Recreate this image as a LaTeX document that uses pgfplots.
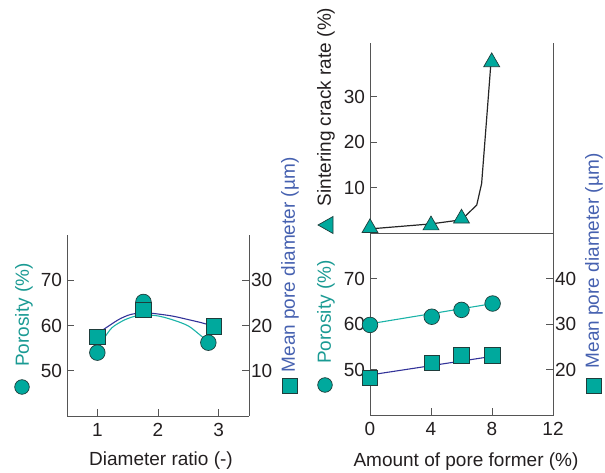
\documentclass[border=0pt]{standalone}
\usepackage{fontspec}
\setmainfont{Liberation Sans}
\usepackage{pgfplots}
\pgfplotsset{compat=1.18}
\definecolor{tealfill}{HTML}{00A99D}
\definecolor{outline}{HTML}{1F3D3B}
\definecolor{tealline}{HTML}{1BB3A8}
\definecolor{blueline}{HTML}{333399}
\definecolor{tealtext}{HTML}{1A9A93}
\definecolor{bluetext}{HTML}{4661B0}
\definecolor{ink}{HTML}{231F20}
\definecolor{axisgray}{HTML}{555555}

\pgfplotsset{
  base/.style={
    scale only axis, clip=false, anchor=south west,
    font=\fontsize{19}{22}\selectfont,
    /pgf/number format/assume math mode=true,
    tick align=inside, major tick length=7pt,
    tick style={axisgray, line width=0.8pt},
    axis line style={axisgray, line width=0.8pt, -},
    ticklabel style={text=ink},
    xticklabel style={yshift=-4pt},
    yticklabel style={xshift=-1.5pt},
  },
  circ/.style={only marks, mark=*, mark size=7.8pt,
    mark options={fill=tealfill, draw=outline, line width=0.7pt}},
  sq/.style={only marks, mark=square*, mark size=7.8pt,
    mark options={fill=tealfill, draw=outline, line width=0.7pt}},
  tri/.style={only marks, mark=triangle*, mark size=9.2pt,
    mark options={fill=tealfill, draw=outline, line width=0.7pt}},
}

\begin{document}
\begin{tikzpicture}[font=\fontsize{19}{22}\selectfont]
\useasboundingbox (0,0) rectangle (605pt,473pt);

% ---- left: diameter ratio ----
\begin{axis}[base, at={(67pt,57pt)}, width=182pt, height=181pt,
  xmin=0.5, xmax=3.5, ymin=40, ymax=80,
  xtick={1,2,3}, ytick={50,60,70},
  axis x line*=bottom, axis y line*=left]
\addplot[tealline, line width=1.1pt, smooth] coordinates
  {(1.10,56.9) (1.24,59.5) (1.46,61.3) (1.68,62.2) (1.96,62.2) (2.23,61.3) (2.50,59.9) (2.72,57.6) (2.80,56.8)};
\addplot[circ] coordinates {(1,54.0) (1.76,65.2) (2.83,56.2)};
\end{axis}
\begin{axis}[base, at={(67pt,57pt)}, width=182pt, height=181pt,
  xmin=0.5, xmax=3.5, ymin=0, ymax=40,
  ytick={10,20,30}, axis y line*=right, axis x line=none]
\addplot[blueline, line width=1.1pt, smooth] coordinates
  {(1.10,19.1) (1.35,21.3) (1.54,22.4) (1.74,22.8) (1.90,22.7) (2.23,22.1) (2.50,21.3) (2.72,20.6) (2.90,19.9)};
\addplot[sq] coordinates {(1,17.5) (1.76,23.5) (2.92,19.8)};
\end{axis}

% ---- right top: crack rate ----
\begin{axis}[base, at={(370pt,240pt)}, width=183pt, height=190pt,
  xmin=0, xmax=12, ymin=0, ymax=41.8,
  ytick={10,20,30}, xtick=\empty, ytick pos=left,
  axis x line=none, axis y line=box]
\addplot[black!85, line width=1.2pt] coordinates
  {(0,0.9) (4,2.0) (6,2.9) (7.0,6.15) (7.32,10.9) (7.54,20.4) (7.76,30) (7.91,36.6) (7.98,37.6)};
\addplot[tri] coordinates {(0,1.1) (4,1.7) (6,3.2) (7.98,37.6)};
\end{axis}

% ---- right bottom: pore former ----
\begin{axis}[base, at={(370pt,58pt)}, width=183pt, height=182pt,
  xmin=0, xmax=12, ymin=40, ymax=80,
  xtick={0,4,8,12}, ytick={50,60,70},
  xtick pos=bottom, ytick pos=left]
\addplot[tealline, line width=1.1pt] coordinates {(0.1,60.1) (7.9,64.4)};
\addplot[circ] coordinates {(0,59.8) (4.05,61.6) (6.0,63.1) (8.04,64.5)};
\end{axis}
\begin{axis}[base, at={(370pt,58pt)}, width=183pt, height=182pt,
  xmin=0, xmax=12, ymin=10, ymax=50,
  ytick={20,30,40}, axis y line*=right, axis x line=none]
\addplot[blueline, line width=1.1pt] coordinates {(0.2,18.9) (7.65,22.7)};
\addplot[sq] coordinates {(0,18.2) (4.05,21.5) (6.0,23.1) (8.04,23.1)};
\end{axis}

% ---- axis titles with their symbols ----
\node[rotate=90, text=tealtext, inner sep=0pt] at (24pt,158pt) {Porosity (\%)};
\draw[fill=tealfill, draw=outline, line width=0.7pt] (22pt,86pt) circle (7.3pt);
\node[rotate=90, text=bluetext, inner sep=0pt] at (290pt,208pt) {Mean pore diameter (µm)};
\draw[fill=tealfill, draw=outline, line width=0.7pt] (282pt,80pt) rectangle (297pt,95pt);

\node[rotate=90, text=tealtext, inner sep=0pt] at (326pt,161pt) {Porosity (\%)};
\draw[fill=tealfill, draw=outline, line width=0.7pt] (325pt,88pt) circle (7.3pt);
\node[rotate=90, text=ink, inner sep=0pt] at (326pt,366pt) {Sintering crack rate (\%)};
\draw[fill=tealfill, draw=outline, line width=0.7pt] (318pt,248pt) -- (333pt,239.5pt) -- (333pt,256.5pt) -- cycle;
\node[rotate=90, text=bluetext, inner sep=0pt] at (594pt,212pt) {Mean pore diameter (µm)};
\draw[fill=tealfill, draw=outline, line width=0.7pt] (586pt,80pt) rectangle (601pt,95pt);

\node[anchor=base, text=ink, inner sep=0pt] at (161pt,7pt) {Diameter ratio (-)};
\node[anchor=base, text=ink, inner sep=0pt] at (466pt,6pt) {Amount of pore former (\%)};
\end{tikzpicture}
\end{document}
